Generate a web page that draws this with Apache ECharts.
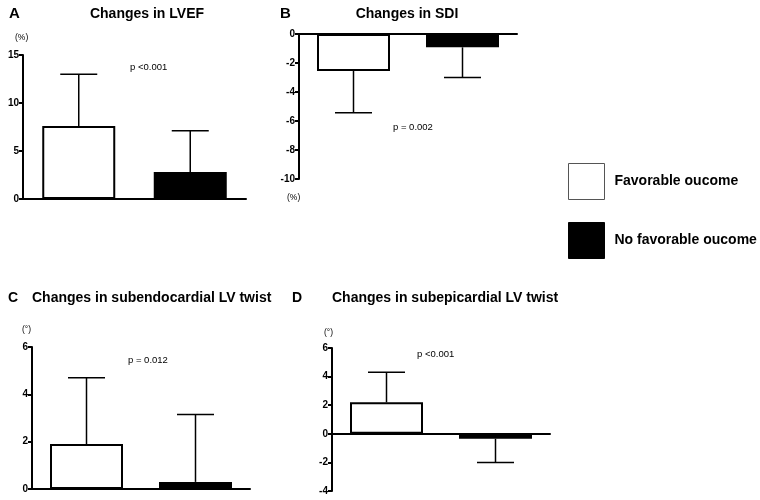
<!DOCTYPE html>
<html>
<head>
<meta charset="utf-8">
<script src="https://cdn.jsdelivr.net/npm/echarts@6/dist/echarts.min.js"></script>
<style>html,body{margin:0;padding:0;background:#fff}#c{width:760px;height:500px}</style>
</head>
<body>
<div id="c"></div>
<script>
// ---- data ----
const categories = ['Favorable oucome', 'No favorable oucome'];
const lvefMean = [7.6, 2.8];
const lvefSD = [5.4, 4.3];
const sdiMean = [-2.55, -0.92];
const sdiSD = [2.88, 2.08];
const endoMean = [1.9, 0.3];
const endoSD = [2.8, 2.85];
const epiMean = [2.2, -0.35];
const epiSD = [2.1, 1.65];
const yTicksA = [0, 15, 5];
const yTicksB = [-10, 0, 2];
const yTicksC = [0, 6, 2];
const yTicksD = [-4, 6, 2];

const FONT = 'Liberation Sans, Arial, Helvetica, sans-serif';
const panels = [
  {mean: lvefMean, sd: lvefSD, ticks: yTicksA, grid: {left: 23, top: 55, width: 223, height: 144}},
  {mean: sdiMean, sd: sdiSD, ticks: yTicksB, grid: {left: 299, top: 34, width: 218, height: 145}},
  {mean: endoMean, sd: endoSD, ticks: yTicksC, grid: {left: 32, top: 347, width: 218, height: 142}},
  {mean: epiMean, sd: epiSD, ticks: yTicksD, grid: {left: 332, top: 348, width: 218, height: 143}}
];

const grids = [], xAxes = [], yAxes = [], series = [];
panels.forEach((p, i) => {
  grids.push(Object.assign({containLabel: false}, p.grid));
  xAxes.push({
    type: 'category', gridIndex: i, data: categories,
    axisLine: {onZero: true, lineStyle: {color: '#000', width: 2}},
    axisTick: {show: false}, axisLabel: {show: false}, splitLine: {show: false}
  });
  yAxes.push({
    type: 'value', gridIndex: i, min: p.ticks[0], max: p.ticks[1], interval: p.ticks[2],
    axisLine: {show: true, onZero: false, lineStyle: {color: '#000', width: 2}},
    axisTick: {show: true, length: 4, lineStyle: {color: '#000', width: 2}},
    axisLabel: {color: '#000', fontSize: 10, fontWeight: 'bold', fontFamily: FONT, margin: 4},
    splitLine: {show: false}
  });
  series.push({
    name: categories[0], type: 'bar', xAxisIndex: i, yAxisIndex: i,
    data: [p.mean[0], '-'], barWidth: 73, barGap: '-100%',
    itemStyle: {color: '#fff', borderColor: '#000', borderWidth: 2}
  });
  series.push({
    name: categories[1], type: 'bar', xAxisIndex: i, yAxisIndex: i,
    data: ['-', p.mean[1]], barWidth: 73, barGap: '-100%',
    itemStyle: {color: '#000', borderColor: '#000', borderWidth: 2}
  });
  series.push({
    type: 'custom', xAxisIndex: i, yAxisIndex: i, z: 5,
    encode: {x: 0, y: [1, 2]},
    data: p.mean.map((m, k) => [k, m, m >= 0 ? m + p.sd[k] : m - p.sd[k]]),
    renderItem: function (params, api) {
      const a = api.coord([api.value(0), api.value(1)]);
      const b = api.coord([api.value(0), api.value(2)]);
      const hw = 18.5;
      return {
        type: 'group',
        children: [
          {type: 'line', shape: {x1: a[0], y1: a[1], x2: b[0], y2: b[1]}, style: {stroke: '#000', lineWidth: 1.5}},
          {type: 'line', shape: {x1: b[0] - hw, y1: b[1], x2: b[0] + hw, y2: b[1]}, style: {stroke: '#000', lineWidth: 1.5}}
        ]
      };
    }
  });
});

function txt(x, y, text, size, bold, align) {
  return {type: 'text', x: x, y: y, style: {text: text, fontSize: size, fontWeight: bold ? 'bold' : 'normal',
    fontFamily: FONT, fill: '#000', align: align || 'left', verticalAlign: 'middle'}};
}

const graphics = [
  txt(9, 14, 'A', 15, true),
  txt(147, 14, 'Changes in LVEF', 14, true, 'center'),
  txt(15, 38, '(%)', 8.5, false),
  txt(130, 67, 'p <0.001', 9.5, false),
  txt(280, 14, 'B', 15, true),
  txt(407, 14, 'Changes in SDI', 14, true, 'center'),
  txt(287, 198, '(%)', 8.5, false),
  txt(393, 127, 'p = 0.002', 9.5, false),
  txt(8, 298, 'C', 14, true),
  txt(32, 298, 'Changes in subendocardial LV twist', 14, true),
  txt(22, 330, '(°)', 8.5, false),
  txt(128, 360, 'p = 0.012', 9.5, false),
  txt(292, 298, 'D', 14, true),
  txt(332, 298, 'Changes in subepicardial LV twist', 14, true),
  txt(324, 333, '(°)', 8.5, false),
  txt(417, 354, 'p <0.001', 9.5, false)
];

const chart = echarts.init(document.getElementById('c'), null, {renderer: 'canvas'});
chart.setOption({
  animation: false,
  backgroundColor: '#fff',
  grid: grids, xAxis: xAxes, yAxis: yAxes, series: series,
  legend: {
    orient: 'vertical', left: 568, top: 163, padding: 0, itemWidth: 36, itemHeight: 36, itemGap: 22,
    data: [
      {name: categories[0], icon: 'rect', itemStyle: {color: '#fff', borderColor: '#555', borderWidth: 1}},
      {name: categories[1], icon: 'rect', itemStyle: {color: '#000', borderColor: '#000', borderWidth: 1}}
    ],
    textStyle: {color: '#000', fontSize: 14, fontWeight: 'bold', fontFamily: FONT, padding: [0, 0, 0, 5]},
    selectedMode: false
  },
  graphic: graphics
});
</script>
</body>
</html>
